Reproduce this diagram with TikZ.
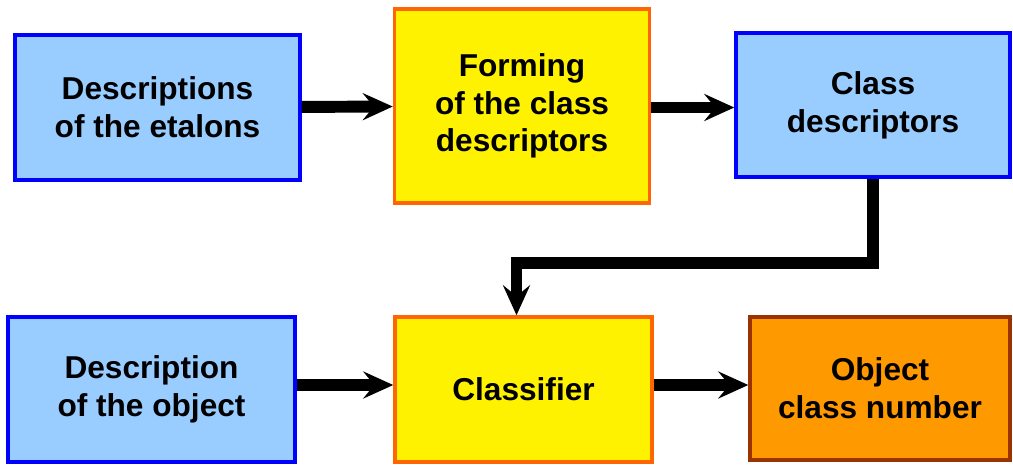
\documentclass[tikz,border=0pt]{standalone}
\usepackage{fontspec}
\setmainfont{Liberation Sans}
\usetikzlibrary{arrows.meta}
\definecolor{skyblu}{HTML}{99CCFF}
\definecolor{orng}{HTML}{FF6600}
\definecolor{orngfill}{HTML}{FF9900}
\definecolor{brwn}{HTML}{993300}
\tikzset{
  blk/.style={draw, line width=2pt, align=center, inner sep=0pt,
    font=\bfseries\fontsize{18}{21.5}\selectfont},
  desc/.style={blk, fill=skyblu, draw=blue},
  proc/.style={blk, fill=yellow, draw=orng},
  res/.style={blk, fill=orngfill, draw=brwn},
  flow/.style={-{Stealth[length=6mm, width=5.4mm, inset=2.2mm]}, line width=6.8pt, line join=miter},
}

\begin{document}
\begin{tikzpicture}[x=0.02cm, y=-0.02cm]
  \useasboundingbox (0,0) rectangle (1013,464);
  % top row
  \node[desc, minimum width=5.7cm, minimum height=2.9cm] (etal) at (157.5,107.5) {Descriptions\\of the etalons};
  \node[proc, minimum width=5.1cm, minimum height=3.88cm] (form) at (522,106) {Forming\\of the class\\descriptors};
  \node[desc, minimum width=5.48cm, minimum height=2.88cm] (cdes) at (873,105) {Class\\descriptors};
  % bottom row
  \node[desc, minimum width=5.74cm, minimum height=2.9cm] (dobj) at (151.5,389.5) {Description\\of the object};
  \node[proc, minimum width=5.14cm, minimum height=2.9cm] (clsf) at (523.5,389.5) {Classifier};
  \node[res, minimum width=5.2cm, minimum height=2.86cm] (ocn) at (880,388.5) {Object\\class number};
  \coordinate (bend) at (0,263);

  \draw[flow] (etal) -- (form);
  \draw[flow] (form.east |- etal) -- (cdes.west |- etal);
  \draw[flow] (cdes.south) -- (cdes.south |- bend) -| ([xshift=-0.14cm]clsf.north);
  \draw[flow] (dobj.east |- 0,385) -- (clsf.west |- 0,385);
  \draw[flow] (clsf.east |- 0,385) -- (ocn.west |- 0,385);
\end{tikzpicture}
\end{document}
